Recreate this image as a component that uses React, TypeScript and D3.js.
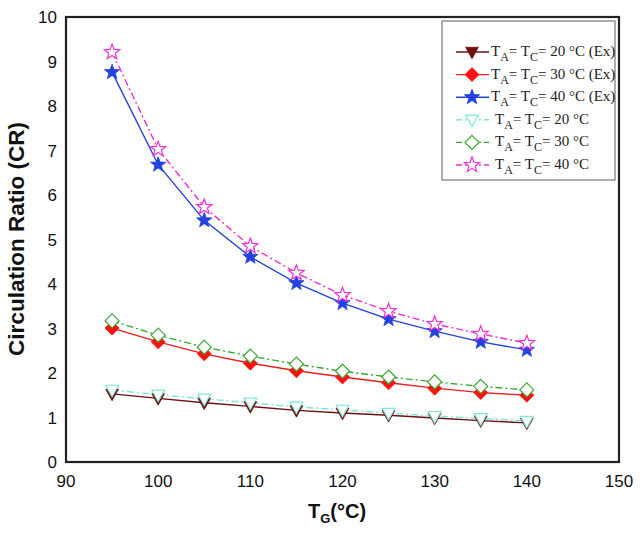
import React from "react";
import * as d3 from "d3";

const tg = [95, 100, 105, 110, 115, 120, 125, 130, 135, 140];
const ex20 = [1.53, 1.43, 1.33, 1.25, 1.16, 1.1, 1.05, 0.99, 0.93, 0.88];
const ex30 = [3.01, 2.7, 2.43, 2.22, 2.05, 1.91, 1.78, 1.66, 1.56, 1.5];
const ex40 = [8.76, 6.68, 5.43, 4.61, 4.02, 3.57, 3.21, 2.94, 2.7, 2.52];
const mo20 = [1.62, 1.51, 1.42, 1.33, 1.24, 1.17, 1.1, 1.03, 0.98, 0.92];
const mo30 = [3.17, 2.85, 2.58, 2.38, 2.2, 2.04, 1.91, 1.8, 1.7, 1.62];
const mo40 = [9.21, 7.03, 5.73, 4.85, 4.25, 3.75, 3.39, 3.1, 2.88, 2.67];
const xTicks = [90, 100, 110, 120, 130, 140, 150];
const yTicks = [0, 1, 2, 3, 4, 5, 6, 7, 8, 9, 10];
const legendTemps = ["20", "30", "40", "20", "30", "40"];

type Marker = "tri" | "diamond" | "star";
interface Series {
  vals: number[];
  color: string;
  marker: Marker;
  filled: boolean;
  dashed: boolean;
  ex: boolean;
}

const series: Series[] = [
  { vals: ex20, color: "#6e1010", marker: "tri", filled: true, dashed: false, ex: true },
  { vals: ex30, color: "#ff1010", marker: "diamond", filled: true, dashed: false, ex: true },
  { vals: ex40, color: "#2442e0", marker: "star", filled: true, dashed: false, ex: true },
  { vals: mo20, color: "#7fe6dc", marker: "tri", filled: false, dashed: true, ex: false },
  { vals: mo30, color: "#3aa832", marker: "diamond", filled: false, dashed: true, ex: false },
  { vals: mo40, color: "#f030d0", marker: "star", filled: false, dashed: true, ex: false },
];

const lineColors = ["#6e1010", "#e82020", "#2442e0", "#7fe6dc", "#3aa832", "#f030d0"];

function markerPath(m: Marker, s: number): string {
  if (m === "tri") {
    const h = s;
    return `M${-s * 0.75},${-h * 0.55}L${s * 0.75},${-h * 0.55}L0,${h * 0.8}Z`;
  }
  if (m === "diamond") {
    return `M0,${-s}L${s},0L0,${s}L${-s},0Z`;
  }
  const pts: string[] = [];
  for (let i = 0; i < 10; i++) {
    const r = i % 2 === 0 ? s : s * 0.42;
    const a = -Math.PI / 2 + (i * Math.PI) / 5;
    pts.push(`${(r * Math.cos(a)).toFixed(2)},${(r * Math.sin(a)).toFixed(2)}`);
  }
  return "M" + pts.join("L") + "Z";
}

export default function App() {
  const W = 640, H = 533;
  const x = d3.scaleLinear().domain([90, 150]).range([66, 619]);
  const y = d3.scaleLinear().domain([0, 10]).range([462, 17]);
  const line = d3
    .line<number>()
    .x((_, i) => x(tg[i]))
    .y((v) => y(v));

  const msize = (m: Marker) => (m === "tri" ? 8.5 : m === "diamond" ? 7 : 8);

  const legendX = 442, legendY = 21, legendW = 173, legendH = 159;
  const legendRowY = (i: number) => 52 + i * 22.6;

  return (
    <svg
      width={W}
      height={H}
      style={{ position: "absolute", left: 0, top: 0, background: "#fff" }}
      fontFamily="'Liberation Sans', Arial, sans-serif"
    >
      <rect x={0} y={0} width={W} height={H} fill="#fff" />
      {series.map((s, k) => (
        <path
          key={"l" + k}
          d={line(s.vals) || ""}
          fill="none"
          stroke={lineColors[k]}
          strokeWidth={1.4}
          strokeDasharray={s.dashed ? "7,3,2,3" : undefined}
        />
      ))}
      {series.map((s, k) =>
        s.vals.map((v, i) => (
          <path
            key={"m" + k + "-" + i}
            d={markerPath(s.marker, msize(s.marker))}
            transform={`translate(${x(tg[i])},${y(v)})`}
            fill={s.filled ? s.color : "#fff"}
            stroke={s.color}
            strokeWidth={s.filled ? 0.8 : 1.2}
          />
        ))
      )}
      <rect x={66} y={17} width={553} height={445} fill="none" stroke="#222" strokeWidth={2.2} />
      {yTicks.map((t) => (
        <text key={"y" + t} x={57} y={y(t) + 6} textAnchor="end" fontSize={17} fill="#111">
          {t}
        </text>
      ))}
      {xTicks.map((t) => (
        <text key={"x" + t} x={x(t)} y={487} textAnchor="middle" fontSize={17} fill="#111">
          {t}
        </text>
      ))}
      <text
        transform={`translate(24,239) rotate(-90)`}
        textAnchor="middle"
        fontSize={22.5}
        fontWeight="bold"
        fill="#111"
      >
        Circulation Ratio (CR)
      </text>
      <text x={308} y={518} fontSize={20} fontWeight="bold" fill="#111">
        T
        <tspan fontSize={13} dy={5}>G</tspan>
        <tspan dy={-5}>(°C)</tspan>
      </text>
      <rect x={legendX} y={legendY} width={legendW} height={legendH} fill="#fff" stroke="#777" strokeWidth={1.2} />
      {series.map((s, i) => {
        const ly = legendRowY(i);
        return (
          <g key={"lg" + i}>
            <line
              x1={456}
              x2={489}
              y1={ly}
              y2={ly}
              stroke={lineColors[i]}
              strokeWidth={1.4}
              strokeDasharray={s.dashed ? "6,3,2,3" : undefined}
            />
            <path
              d={markerPath(s.marker, msize(s.marker))}
              transform={`translate(472,${ly})`}
              fill={s.filled ? s.color : "#fff"}
              stroke={s.color}
              strokeWidth={s.filled ? 0.8 : 1.2}
            />
            <text
              x={s.ex ? 491 : 495}
              y={ly + 4}
              fontFamily="'Liberation Serif', 'Times New Roman', serif"
              fontSize={15}
              fill="#222"
            >
              T<tspan fontSize={12} dy={5}>A</tspan>
              <tspan dy={-5}>= T</tspan>
              <tspan fontSize={12} dy={5}>C</tspan>
              <tspan dy={-5}>{"= " + legendTemps[i] + " °C" + (s.ex ? " (Ex)" : "")}</tspan>
            </text>
          </g>
        );
      })}
    </svg>
  );
}
